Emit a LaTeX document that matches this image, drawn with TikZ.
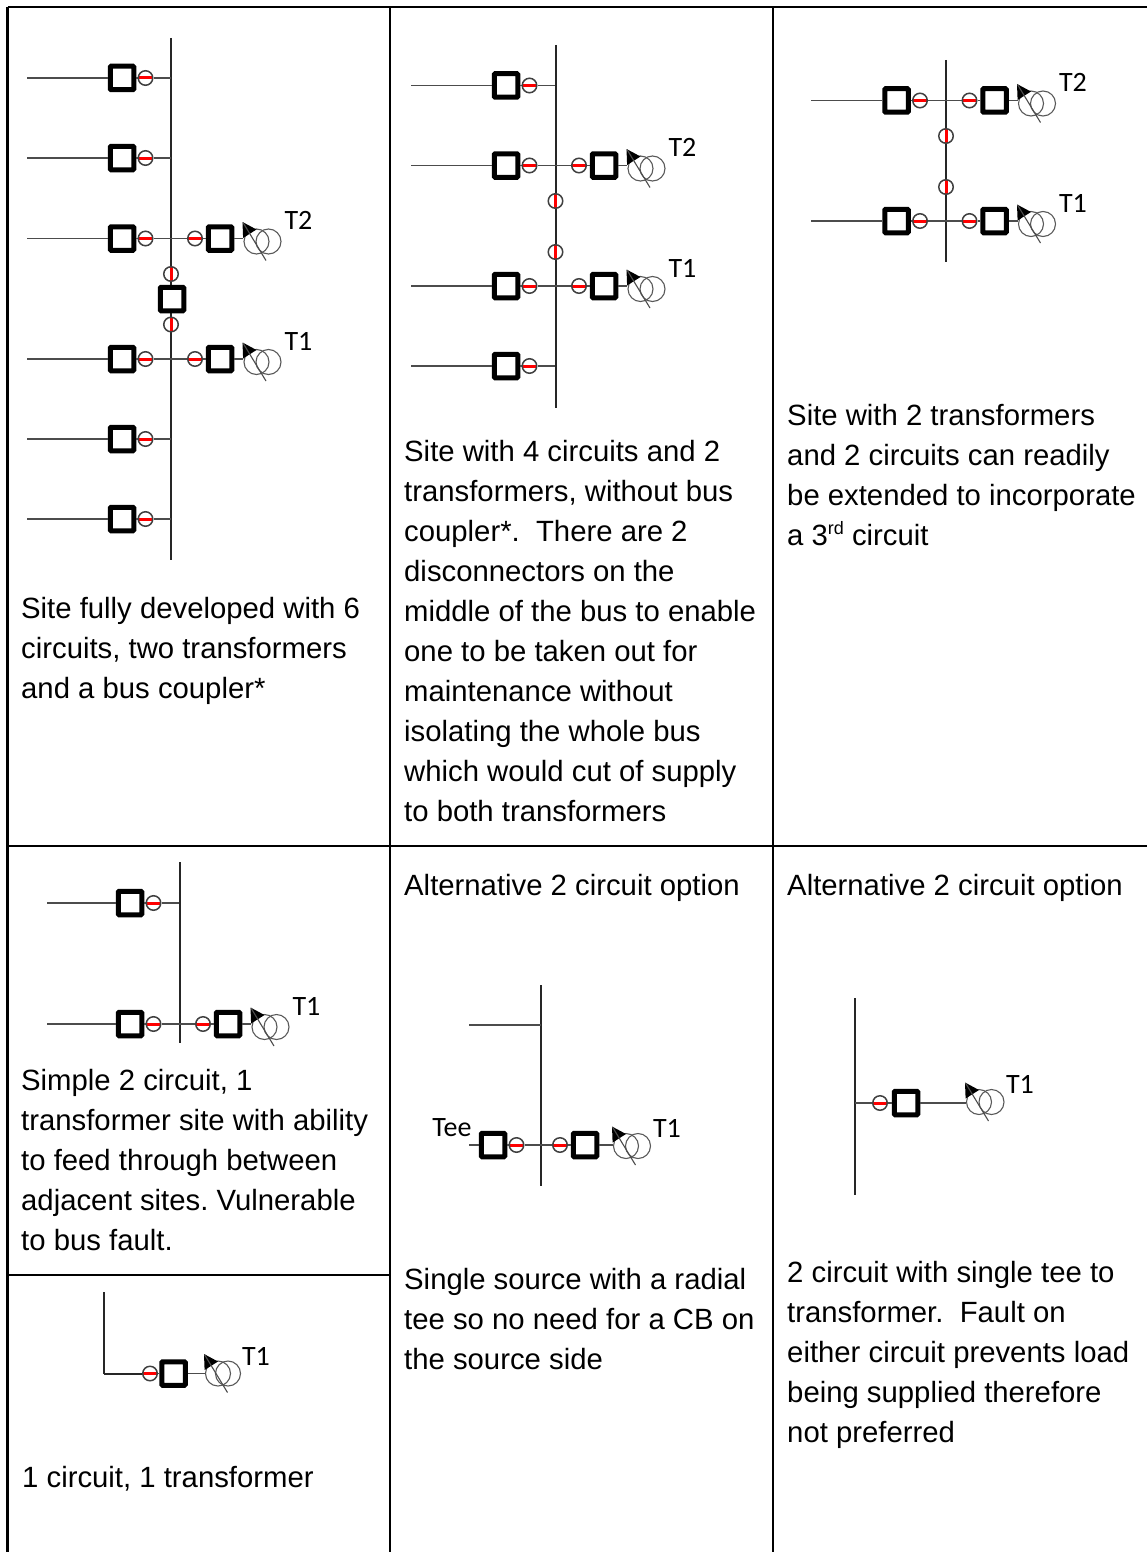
\documentclass[tikz,border=0pt]{standalone}
\usepackage{fontspec}
\setmainfont{Liberation Sans}
\newfontfamily\labelfont{Carlito}
\tikzset{
  grid/.style={line width=2.6pt, black},
  bus/.style={line width=2pt, black!85},
  wire/.style={line width=1.3pt, black!70},
  cb/.style={draw=black, line width=5pt, fill=white, rounded corners=1pt, minimum size=23.5pt, inner sep=0pt},
  disc/.style={circle, draw=black!75, line width=1.5pt, fill=white, minimum size=14.5pt, inner sep=0pt, path picture={\draw[red, line width=3pt] (path picture bounding box.west) -- (path picture bounding box.east);}},
  discv/.style={circle, draw=black!75, line width=1.5pt, fill=white, minimum size=14.5pt, inner sep=0pt, path picture={\draw[red, line width=3pt] (path picture bounding box.north) -- (path picture bounding box.south);}},
  wind/.style={circle, draw=black!65, line width=1.1pt, minimum size=25pt, inner sep=0pt},
  tlabel/.style={font=\labelfont\fontsize{28}{30}\selectfont, inner sep=0pt},
  caption/.style={anchor=north west, align=left, inner sep=0pt, font=\fontsize{29.3}{40}\selectfont},
}
% transformer: name, x, y, spacing of the windings
\newcommand{\xfmr}[4]{
\node[wind] (#1_a) at (#2,#3) {};
\node[wind] (#1_b) at (#2+#4,#3) {};
\fill (#2-14,#3-19.5) -- (#2-13.4,#3-3.5) -- (#2,#3-12) -- cycle;
\draw[line width=1.1pt, black!70] (#2-13.5,#3-19) -- (#2+9.5,#3+19);
}
% circuit left of the bus: name, bus x, y, start x
\newcommand{\feedleft}[4]{
\coordinate (#1_s) at (#4,#3);
\coordinate (#1_j) at (#2,#3);
\node[cb] (#1_cb) at (#2-49,#3) {};
\node[disc] (#1_d) at (#2-25.5,#3) {};
\draw[wire] (#1_s) -- (#1_cb);
\draw[wire] (#1_cb) -- (#1_d);
\draw[wire] (#1_d) -- (#1_j);
}
% transformer circuit right of the bus: name, bus x, y, label
\newcommand{\feedright}[4]{
\coordinate (#1_j) at (#2,#3);
\node[disc] (#1_d) at (#2+24,#3) {};
\node[cb] (#1_cb) at (#2+49,#3) {};
\xfmr{#1}{#2+85.5}{#3+3}{12}
\node[tlabel] (#1_l) at (#2+127.5,#3-18) {#4};
\draw[wire] (#1_j) -- (#1_d);
\draw[wire] (#1_d) -- (#1_cb);
\draw[wire] (#1_cb) -- (#1_cb -| #1_a.west);
}
\begin{document}
\begin{tikzpicture}[x=1pt, y=-1pt]
\useasboundingbox (0,0) rectangle (1147,1552);
% table
\coordinate (G_tl) at (7.5,7);
\coordinate (G_tm) at (390,7);
\coordinate (G_tn) at (773,7);
\coordinate (G_tr) at (1147,7);
\coordinate (G_bl) at (7.5,1552);
\coordinate (G_bm) at (390,1552);
\coordinate (G_bn) at (773,1552);
\coordinate (G_ml) at (7.5,846);
\coordinate (G_mr) at (1147,846);
\coordinate (G_sl) at (7.5,1275);
\coordinate (G_sm) at (390,1275);
\draw[grid] (G_tl) -- (G_tr);
\draw[grid] (G_ml) -- (G_mr);
\draw[grid] (G_sl) -- (G_sm);
\draw[grid] (G_tl) -- (G_bl);
\draw[grid] (G_tm) -- (G_bm);
\draw[grid] (G_tn) -- (G_bn);
% 6 circuits
\coordinate (B_1_t) at (171,38);
\coordinate (B_1_b) at (171,560);
\draw[bus] (B_1_t) -- (B_1_b);
\feedleft{F_1_1}{171}{78}{27}
\feedleft{F_1_2}{171}{158}{27}
\feedleft{F_1_3}{171}{238.5}{27}
\feedleft{F_1_4}{171}{359}{27}
\feedleft{F_1_5}{171}{439}{27}
\feedleft{F_1_6}{171}{519}{27}
\feedright{X_1_2}{171}{238.5}{T2}
\feedright{X_1_1}{171}{359}{T1}
\node[discv] (D_1_1) at (171,274) {};
\node[cb] (C_1_1) at (172,299) {};
\node[discv] (D_1_2) at (171,324.5) {};
\node[caption] (L_1) at (21,597) {Site fully developed with 6\\circuits, two transformers\\and a bus coupler*};
% 4 circuits
\coordinate (B_2_t) at (555.5,45);
\coordinate (B_2_b) at (555.5,408);
\draw[bus] (B_2_t) -- (B_2_b);
\feedleft{F_2_1}{555}{85.5}{411}
\feedleft{F_2_2}{555}{165.5}{411}
\feedleft{F_2_3}{555}{286}{411}
\feedleft{F_2_4}{555}{366}{411}
\feedright{X_2_2}{555}{165.5}{T2}
\feedright{X_2_1}{555}{286}{T1}
\node[discv] (D_2_1) at (555.5,201) {};
\node[discv] (D_2_2) at (555.5,252) {};
\node[caption] (L_2) at (404,440) {Site with 4 circuits and 2\\transformers, without bus\\coupler*.\ \ There are 2\\disconnectors on the\\middle of the bus to enable\\one to be taken out for\\maintenance without\\isolating the whole bus\\which would cut of supply\\to both transformers};
% 2 circuits, 2 transformers
\coordinate (B_3_t) at (946,60);
\coordinate (B_3_b) at (946,262);
\draw[bus] (B_3_t) -- (B_3_b);
\feedleft{F_3_1}{945.5}{100.5}{811}
\feedleft{F_3_2}{945.5}{221}{811}
\feedright{X_3_2}{945.5}{100.5}{T2}
\feedright{X_3_1}{945.5}{221}{T1}
\node[discv] (D_3_1) at (946,136) {};
\node[discv] (D_3_2) at (946,187) {};
\node[caption] (L_3) at (787,404) {Site with 2 transformers\\and 2 circuits can readily\\be extended to incorporate\\a 3\raisebox{11pt}{\fontsize{18}{18}\selectfont rd} circuit};
% simple 2 circuits
\coordinate (B_4_t) at (179.5,862);
\coordinate (B_4_b) at (179.5,1043);
\draw[bus] (B_4_t) -- (B_4_b);
\feedleft{F_4_1}{179}{903}{47}
\feedleft{F_4_2}{179}{1024}{47}
\feedright{X_4_1}{179}{1024}{T1}
\node[caption] (L_4) at (21,1069) {Simple 2 circuit, 1\\transformer site with ability\\to feed through between\\adjacent sites.\ Vulnerable\\to bus fault.};
% radial tee
\node[caption] (L_5_a) at (404,874) {Alternative 2 circuit option};
\coordinate (B_5_t) at (541,985);
\coordinate (B_5_b) at (541,1186);
\coordinate (B_5_j) at (541,1025);
\coordinate (B_5_s) at (469,1025);
\draw[bus] (B_5_t) -- (B_5_b);
\draw[wire] (B_5_s) -- (B_5_j);
\coordinate (F_5_1_s) at (469,1145);
\node[cb] (C_5_1) at (493,1145) {};
\node[disc] (D_5_1) at (516.5,1145) {};
\node[disc] (D_5_2) at (560,1145) {};
\node[cb] (C_5_2) at (585,1145) {};
\xfmr{X_5_1}{626}{1146}{12}
\node[tlabel] (X_5_1_l) at (667,1128) {T1};
\draw[wire] (F_5_1_s) -- (C_5_1);
\draw[wire] (C_5_1) -- (D_5_1);
\draw[wire] (D_5_1) -- (D_5_2);
\draw[wire] (D_5_2) -- (C_5_2);
\draw[wire] (C_5_2) -- (C_5_2 -| X_5_1_a.west);
\node[tlabel] (T_5) at (452,1128) {Tee};
\node[caption] (L_5) at (404,1268) {Single source with a radial\\tee so no need for a CB on\\the source side};
% single tee
\node[caption] (L_6_a) at (787,874) {Alternative 2 circuit option};
\coordinate (B_6_t) at (854.5,998);
\coordinate (B_6_b) at (854.5,1195);
\coordinate (B_6_j) at (854.5,1103);
\draw[bus] (B_6_t) -- (B_6_b);
\node[disc] (D_6_1) at (880,1103) {};
\node[cb] (C_6_1) at (906,1103) {};
\xfmr{X_6_1}{979}{1102}{12.5}
\node[tlabel] (X_6_1_l) at (1020,1084) {T1};
\draw[wire] (B_6_j) -- (D_6_1);
\draw[wire] (D_6_1) -- (C_6_1);
\draw[wire] (C_6_1) -- (C_6_1 -| X_6_1_a.west);
\node[caption] (L_6) at (787,1261) {2 circuit with single tee to\\transformer.\ \ Fault on\\either circuit prevents load\\being supplied therefore\\not preferred};
% 1 circuit
\coordinate (B_7_t) at (103.5,1292);
\coordinate (B_7_b) at (103.5,1373.5);
\draw[bus] (B_7_t) -- (B_7_b);
\node[disc] (D_7_1) at (150,1373.5) {};
\node[cb] (C_7_1) at (173.5,1373.5) {};
\xfmr{X_7_1}{218}{1373.5}{10}
\node[tlabel] (X_7_1_l) at (256,1356) {T1};
\draw[bus] (B_7_b) -- (D_7_1);
\draw[wire] (D_7_1) -- (C_7_1);
\draw[wire] (C_7_1) -- (C_7_1 -| X_7_1_a.west);
\node[caption] (L_7) at (22,1466) {1 circuit, 1 transformer};
\end{tikzpicture}
\end{document}
